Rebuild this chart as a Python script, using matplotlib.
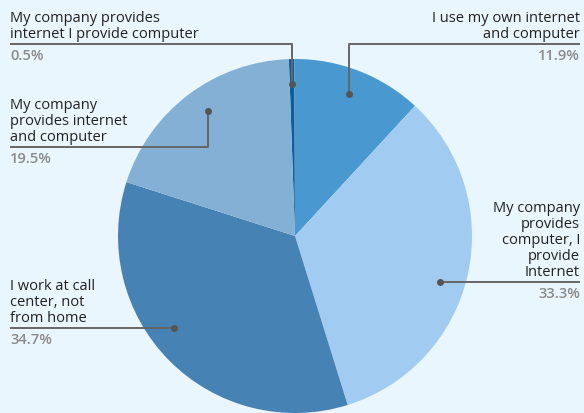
import numpy as np
import matplotlib
matplotlib.use("Agg")
import matplotlib.pyplot as plt

plt.rcParams["font.family"] = ["Open Sans", "DejaVu Sans"]

# slice order: clockwise from just left of 12 o'clock
labels = [
    "My company provides\ninternet I provide computer",
    "I use my own internet\nand computer",
    "My company\nprovides\ncomputer, I\nprovide\nInternet",
    "I work at call\ncenter, not\nfrom home",
    "My company\nprovides internet\nand computer",
]
shares = [0.5, 11.9, 33.3, 34.7, 19.5]
colors = ["#0d5f9c", "#4a98d0", "#a1cbf1", "#4682b4", "#83b0d4"]

# callout layout (pixel space, y from top): leader y, elbow?, text side, anchor nudge (deg)
callouts = [
    (45, True, "left", 0.0),
    (45, True, "right", -0.5),
    (283, False, "right", 5.0),
    (330, False, "left", 7.7),
    (148, True, "left", 2.5),
]

W, H = 584, 414
BG = "#e9f6fd"
CX, CY, R = 295, 237, 177
START = 92


def py(y):
    return H - y


fig = plt.figure(figsize=(W / 100, H / 100), dpi=100, facecolor=BG)
ax = fig.add_axes([0, 0, 1, 1])
ax.set_facecolor(BG)

ax.pie(shares, colors=colors, startangle=START, counterclock=False,
       center=(CX, py(CY)), radius=R, frame=True,
       wedgeprops={"linewidth": 0})
ax.set_xlim(0, W)
ax.set_ylim(0, H)
ax.set_aspect("equal")
ax.axis("off")

total = sum(shares)
cum = np.cumsum([0] + shares[:-1])
line_c = "#666666"
for lab, val, c0, (ly, elbow, side, nudge) in zip(labels, shares, cum, callouts):
    # clockwise angle from 12 o'clock to the callout anchor
    theta = np.radians((c0 + val / 2) / total * 360 - (START - 90) + nudge)
    dx = CX + 0.86 * R * np.sin(theta)
    dy = CY - 0.86 * R * np.cos(theta)
    xe = 10 if side == "left" else 580
    if elbow:
        xs = [dx, dx, xe]
        ys = [py(dy), py(ly), py(ly)]
    else:
        xs = [dx, xe]
        ys = [py(dy), py(dy)]
        ly = dy
    ax.plot(xs, ys, color=line_c, lw=1.4, solid_capstyle="butt", zorder=3)
    ax.plot(dx, py(dy), "o", color="#555555", ms=4, zorder=4)
    ax.text(xe, py(ly - 3), lab, ha=side, va="bottom", fontsize=10.5,
            color="#222222", linespacing=1.1, multialignment=side)
    ax.text(xe, py(ly + 4), f"{val}%", ha=side, va="top", fontsize=10.5,
            color="#8a8a8a", fontweight="semibold")

fig.savefig("out.png", dpi=100, facecolor=BG)
